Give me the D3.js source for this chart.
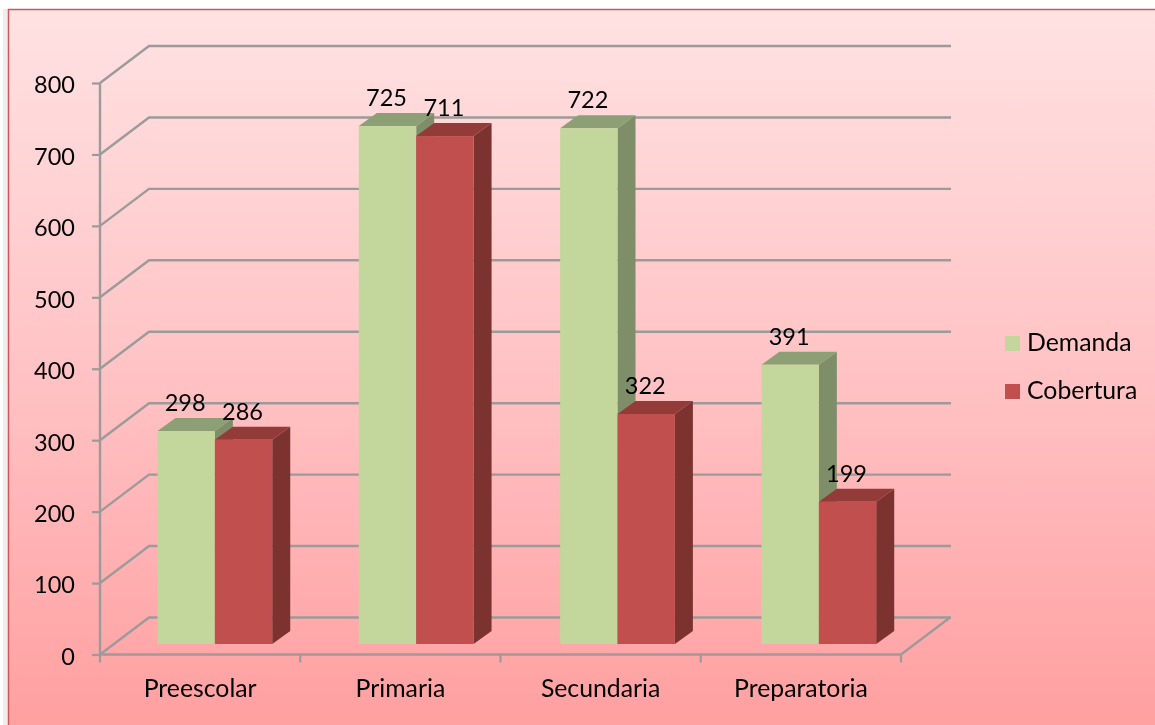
<!DOCTYPE html>
<html lang="es">
<head>
<meta charset="UTF-8">
<title>Demanda y Cobertura</title>
<script src="https://cdnjs.cloudflare.com/ajax/libs/d3/7.8.5/d3.min.js"></script>
<style>
	html, body { margin: 0; padding: 0; background: #fff; overflow: hidden; }
	svg { display: block; }
	text { font-family: Lato, "Open Sans", sans-serif; fill: #000; }
</style>
</head>
<body>
<svg width="1155" height="725"></svg>
<script>
// datos
var categories = ["Preescolar", "Primaria", "Secundaria", "Preparatoria"];
var seriesNames = ["Demanda", "Cobertura"];
var demanda = [298, 725, 722, 391];
var cobertura = [286, 711, 322, 199];
var yTicks = [0, 100, 200, 300, 400, 500, 600, 700, 800];

var allSeries = [demanda, cobertura];
var colors = [
	{front: "#c3d69b", top: "#8d9f74", side: "#7e8e68"},
	{front: "#c0504d", top: "#933b39", side: "#7b302e"}
];

var svg = d3.select("svg");

// fondo
var defs = svg.append("defs");
var grad = defs.append("linearGradient").attr("id", "bg").attr("x1", 0).attr("y1", 0).attr("x2", 0).attr("y2", 1);
grad.append("stop").attr("offset", "0%").attr("stop-color", "#ffe2e3");
grad.append("stop").attr("offset", "55%").attr("stop-color", "#ffbfc1");
grad.append("stop").attr("offset", "100%").attr("stop-color", "#ff9e9f");
// la imagen original esta un poco borrosa
defs.append("filter").attr("id", "soft").attr("x", "-2%").attr("y", "-2%").attr("width", "104%").attr("height", "104%")
	.append("feGaussianBlur").attr("stdDeviation", 0.4);

svg.append("rect").attr("x", 3).attr("y", 9).attr("width", 10).attr("height", 716).attr("fill", "#eeeeee");
svg.append("rect").attr("x", 8.5).attr("y", 9.5).attr("width", 1160).attr("height", 730)
	.attr("fill", "url(#bg)").attr("stroke", "#c9585a").attr("stroke-width", 1.5);

var chart = svg.append("g").attr("filter", "url(#soft)");

// escalas
var y = d3.scaleLinear().domain([0, 800]).range([654.5, 83]);
var x = d3.scaleBand().domain(categories).range([100, 901]);
// las barras estan desplazadas hacia el fondo
var barX = d3.scaleBand().domain(categories).range([114.2, 919.5]).paddingInner(0.43).paddingOuter(0.215);
var inner = d3.scaleBand().domain(seriesNames).range([0, barX.bandwidth()]);

var wallDx = 49, wallDy = -37;
var barBase = 644;
var depthX = 18, depthY = -13;
var gridColor = "#9c9a9a";
var wordSize = 24.8, digitSize = 23.5;

// rejilla
var grid = chart.append("g").attr("fill", "none").attr("stroke", gridColor).attr("stroke-width", 2.4);
yTicks.forEach(function(t) {
	var p = d3.path();
	p.moveTo(x.range()[0], y(t));
	p.lineTo(x.range()[0] + wallDx, y(t) + wallDy);
	p.lineTo(x.range()[1] + wallDx + 1, y(t) + wallDy);
	grid.append("path").attr("d", p.toString());
});
// piso
var floor = d3.path();
floor.moveTo(x.range()[1], y(0));
floor.lineTo(x.range()[1] + wallDx, y(0) + wallDy);
grid.append("path").attr("d", floor.toString());

// ejes
var yAxis = d3.axisLeft(y).tickValues(yTicks).tickSize(8).tickPadding(17);
var gy = chart.append("g").attr("transform", "translate(100,0)").call(yAxis);
var xAxis = d3.axisBottom(x).tickSize(0).tickPadding(25);
var gx = chart.append("g").attr("transform", "translate(0,654.5)").call(xAxis);
gx.selectAll(".tick-mark").data(d3.range(categories.length + 1)).enter().append("line")
	.attr("class", "tick-mark")
	.attr("x1", function(i) { return x.range()[0] + i * x.step(); })
	.attr("x2", function(i) { return x.range()[0] + i * x.step(); })
	.attr("y1", 0).attr("y2", 8);
[gx, gy].forEach(function(g) {
	g.selectAll("path.domain").attr("stroke", gridColor).attr("stroke-width", 2.4);
	g.selectAll("line").attr("stroke", gridColor).attr("stroke-width", 2.2);
	g.selectAll("text").attr("font-family", "Lato").attr("fill", "#000");
});
gx.selectAll("text").attr("font-size", wordSize);
gy.selectAll("text").attr("font-size", digitSize).attr("dy", "0.42em");
gy.selectAll("path.domain").attr("d", "M0," + y(800) + "V" + y(0));
gx.selectAll("path.domain").attr("d", "M" + x.range()[0] + ",0H" + x.range()[1]);

// barras 3D
function pts(a) { return a.map(function(p) { return p.join(","); }).join(" "); }
var barHeight = function(v) { return y(0) - y(v); };

seriesNames.forEach(function(name, s) {
	var g = chart.append("g");
	var rows = categories.map(function(c, i) {
		var x0 = barX(c) + inner(name);
		return {x0: x0, x1: x0 + inner.bandwidth(), top: barBase - barHeight(allSeries[s][i]), v: allSeries[s][i]};
	});
	g.selectAll("polygon.side").data(rows).enter().append("polygon").attr("class", "side")
		.attr("fill", colors[s].side)
		.attr("points", function(d) {
			return pts([[d.x1, d.top], [d.x1 + depthX, d.top + depthY], [d.x1 + depthX, barBase + depthY], [d.x1, barBase]]);
		});
	g.selectAll("polygon.top").data(rows).enter().append("polygon").attr("class", "top")
		.attr("fill", colors[s].top)
		.attr("points", function(d) {
			return pts([[d.x0, d.top], [d.x0 + depthX, d.top + depthY], [d.x1 + depthX, d.top + depthY], [d.x1, d.top]]);
		});
	g.selectAll("rect").data(rows).enter().append("rect")
		.attr("x", function(d) { return d.x0; })
		.attr("y", function(d) { return d.top; })
		.attr("width", function(d) { return d.x1 - d.x0; })
		.attr("height", function(d) { return barBase - d.top; })
		.attr("fill", colors[s].front);
});

// etiquetas de valores
seriesNames.forEach(function(name, s) {
	chart.append("g").selectAll("text").data(allSeries[s]).enter().append("text")
		.attr("x", function(d, i) { return barX(categories[i]) + inner(name) + inner.bandwidth() / 2 - 1; })
		.attr("y", function(d) { return barBase - barHeight(d) - 20; })
		.attr("text-anchor", "middle")
		.attr("font-size", digitSize)
		.text(function(d) { return d; });
});

// leyenda
var legendY = d3.scalePoint().domain(seriesNames).range([343.5, 391.5]);
var legend = chart.append("g").selectAll("g").data(seriesNames).enter().append("g");
legend.append("rect")
	.attr("x", 1005).attr("y", function(d) { return legendY(d) - 7.5; })
	.attr("width", 15).attr("height", 15)
	.attr("fill", function(d, i) { return colors[i].front; });
legend.append("text")
	.attr("x", 1027).attr("y", function(d) { return legendY(d) + 7.5; })
	.attr("font-size", wordSize)
	.text(function(d) { return d; });
</script>
</body>
</html>
